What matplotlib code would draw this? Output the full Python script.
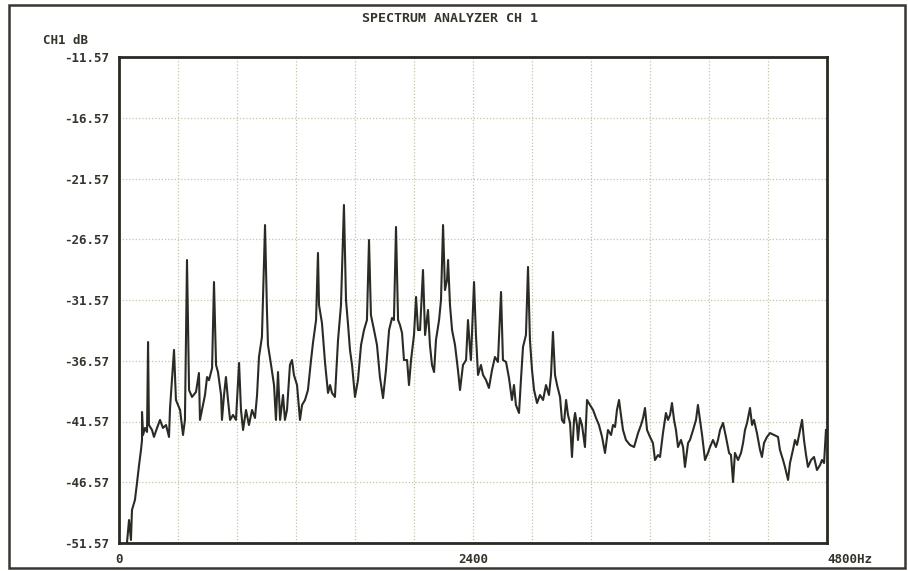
import matplotlib
matplotlib.use("Agg")
import matplotlib.pyplot as plt
from matplotlib.patches import Rectangle

# ---- data ----
freq_hz = [54, 68, 81, 88, 108, 122, 136, 149, 156, 156, 163, 176, 190, 197, 203, 224, 237, 258, 278, 298,
           319, 339, 346, 373, 386, 414, 434, 447, 461, 475, 495, 522, 542, 549, 569, 583, 597, 610, 631, 644,
           658, 671, 692, 698, 712, 725, 739, 753, 773, 793, 814, 827, 841, 861, 881, 902, 922, 936, 949, 969,
           990, 1003, 1010, 1031, 1051, 1064, 1078, 1092, 1112, 1125, 1139, 1159, 1173, 1186, 1207, 1227, 1241, 1261, 1281, 1302,
           1315, 1336, 1349, 1356, 1376, 1397, 1417, 1431, 1444, 1464, 1485, 1505, 1525, 1539, 1553, 1566, 1580, 1600, 1620, 1641,
           1661, 1681, 1695, 1708, 1729, 1749, 1769, 1790, 1810, 1831, 1851, 1864, 1878, 1892, 1905, 1919, 1932, 1953, 1966, 1980,
           2000, 2014, 2027, 2041, 2061, 2075, 2095, 2108, 2122, 2136, 2149, 2170, 2183, 2197, 2210, 2224, 2231, 2244, 2258, 2278,
           2298, 2312, 2332, 2353, 2366, 2380, 2386, 2407, 2420, 2434, 2454, 2468, 2488, 2508, 2529, 2549, 2569, 2590, 2603, 2624,
           2644, 2664, 2678, 2691, 2712, 2725, 2739, 2759, 2773, 2786, 2800, 2814, 2834, 2854, 2875, 2895, 2915, 2929, 2942, 2956,
           2970, 2990, 3003, 3017, 3031, 3044, 3058, 3071, 3085, 3092, 3105, 3112, 3125, 3139, 3159, 3173, 3193, 3214, 3234, 3254,
           3275, 3295, 3315, 3336, 3349, 3363, 3376, 3390, 3403, 3417, 3437, 3464, 3492, 3519, 3539, 3553, 3566, 3580, 3600, 3620,
           3634, 3654, 3668, 3688, 3708, 3722, 3736, 3749, 3763, 3776, 3790, 3810, 3824, 3837, 3858, 3871, 3892, 3912, 3925, 3939,
           3953, 3973, 3993, 4007, 4027, 4047, 4061, 4075, 4095, 4115, 4136, 4149, 4163, 4176, 4197, 4217, 4231, 4244, 4258, 4278,
           4292, 4305, 4325, 4346, 4359, 4373, 4393, 4414, 4441, 4468, 4481, 4502, 4515, 4536, 4549, 4569, 4583, 4597, 4617, 4631,
           4644, 4658, 4671, 4692, 4712, 4732, 4753, 4766, 4780, 4793]
level_db = [-51.57, -49.68, -51.32, -48.85, -48.03, -46.63, -45.15, -43.92, -43.09, -40.79, -42.68, -42.10, -42.43, -35.03, -41.86, -42.27, -42.84, -42.10, -41.44, -42.10,
            -41.86, -42.84, -40.46, -35.68, -39.80, -40.62, -42.68, -41.44, -28.28, -38.98, -39.55, -39.14, -37.58, -41.44, -40.21, -39.39, -37.91, -38.17, -37.17, -30.09,
            -36.92, -37.50, -39.39, -41.44, -39.39, -37.91, -39.80, -41.44, -41.03, -41.44, -36.75, -40.62, -42.27, -40.62, -41.86, -40.62, -41.28, -39.39, -36.26, -34.61,
            -25.40, -32.39, -35.27, -36.92, -38.57, -41.44, -37.50, -41.44, -39.39, -41.44, -40.62, -36.92, -36.51, -37.74, -38.57, -41.44, -40.21, -39.80, -38.98, -36.51,
            -35.11, -33.22, -27.70, -31.98, -33.46, -36.75, -39.22, -38.57, -39.22, -39.55, -34.86, -31.98, -23.75, -31.57, -33.63, -35.68, -36.92, -39.55, -38.17, -35.27,
            -34.04, -33.22, -26.63, -32.81, -34.04, -35.27, -37.91, -39.64, -37.33, -34.04, -33.05, -33.22, -25.56, -33.22, -33.63, -34.29, -36.51, -36.51, -38.57, -36.51,
            -34.45, -31.32, -34.04, -34.04, -29.10, -34.45, -32.39, -35.27, -36.92, -37.50, -34.86, -33.22, -31.57, -25.40, -30.75, -29.92, -28.28, -31.98, -34.04, -35.27,
            -37.33, -38.98, -36.92, -36.51, -33.22, -35.68, -36.51, -30.09, -34.45, -37.74, -36.92, -37.74, -38.15, -38.81, -37.33, -36.26, -36.67, -30.91, -36.51, -36.67,
            -37.99, -39.80, -38.57, -40.21, -40.87, -38.15, -35.44, -34.45, -28.85, -34.86, -37.33, -38.98, -40.05, -39.39, -39.80, -38.57, -39.39, -37.74, -34.20, -37.74,
            -38.57, -39.55, -41.44, -41.69, -39.80, -41.03, -41.69, -44.49, -41.44, -40.87, -41.86, -43.09, -41.28, -41.86, -43.67, -39.80, -40.21, -40.62, -41.28, -41.86,
            -42.84, -44.16, -42.27, -42.68, -41.86, -42.02, -40.62, -39.80, -41.03, -42.27, -43.09, -43.50, -43.67, -42.52, -41.86, -41.28, -40.46, -42.27, -42.84, -43.34,
            -44.74, -44.33, -44.49, -42.52, -40.87, -41.44, -41.03, -40.05, -41.44, -42.27, -43.67, -43.09, -43.67, -45.31, -43.34, -43.09, -42.27, -41.44, -40.21, -41.44,
            -42.68, -44.74, -44.16, -43.67, -43.09, -43.67, -43.09, -42.27, -41.69, -42.84, -44.16, -44.33, -46.55, -44.16, -44.74, -44.16, -43.34, -42.27, -41.69, -40.46,
            -41.86, -41.44, -42.52, -43.91, -44.49, -43.34, -42.84, -42.52, -42.68, -42.84, -43.91, -44.74, -45.31, -46.38, -44.99, -43.91, -43.09, -43.50, -42.27, -41.44,
            -43.09, -44.33, -45.31, -44.74, -44.49, -45.56, -45.15, -44.74, -44.99, -42.27]

y_ticks = [-11.57, -16.57, -21.57, -26.57, -31.57, -36.57, -41.57, -46.57, -51.57]
y_tick_labels = ["-11.57", "-16.57", "-21.57", "-26.57", "-31.57", "-36.57", "-41.57", "-46.57", "-51.57"]
x_ticks = [0, 400, 800, 1200, 1600, 2000, 2400, 2800, 3200, 3600, 4000, 4400, 4800]
x_tick_labels = ["0", "", "", "", "", "", "2400", "", "", "", "", "", "4800Hz"]
title_text = "SPECTRUM ANALYZER CH 1"
y_unit_text = "CH1 dB"

# ---- figure ----
W, H = 908, 571
fig = plt.figure(figsize=(W / 100, H / 100), dpi=100)
fig.patch.set_facecolor("white")

ink = "#34342c"
font = "DejaVu Sans Mono"

ax = fig.add_axes([119 / W, 1 - 543 / H, (827 - 119) / W, (543 - 57) / H])
ax.plot(freq_hz, level_db, color="#2b2b25", lw=1.5)
ax.set_xlim(0, 4800)
ax.set_ylim(-51.57, -11.57)

ax.set_xticks(x_ticks)
ax.set_xticklabels(x_tick_labels)
ax.set_yticks(y_ticks)
ax.set_yticklabels(y_tick_labels)
ax.tick_params(length=0, pad=7, labelsize=9, colors=ink)
for lab in ax.get_xticklabels() + ax.get_yticklabels():
    lab.set_fontfamily(font)
    lab.set_fontweight("bold")
xl = ax.get_xticklabels()
xl[-1].set_ha("left")

ax.grid(True, color="#c4c4ad", lw=0.9, linestyle=(0, (1, 1.6)))
ax.set_axisbelow(True)
for s in ax.spines.values():
    s.set_linewidth(2.0)
    s.set_color("#2a2a24")

fig.text(450 / W, 1 - 18 / H, title_text, ha="center", va="center",
         fontsize=9.5, family=font, fontweight="bold", color=ink)
fig.text(43 / W, 1 - 41 / H, y_unit_text, ha="left", va="center",
         fontsize=9, family=font, fontweight="bold", color=ink)

fig.patches.append(Rectangle((9 / W, 1 - 568 / H), (905 - 9) / W, (568 - 5) / H,
                             transform=fig.transFigure, fill=False,
                             edgecolor="#3a3530", lw=1.8))

fig.savefig("out.png", dpi=100, facecolor="white")
